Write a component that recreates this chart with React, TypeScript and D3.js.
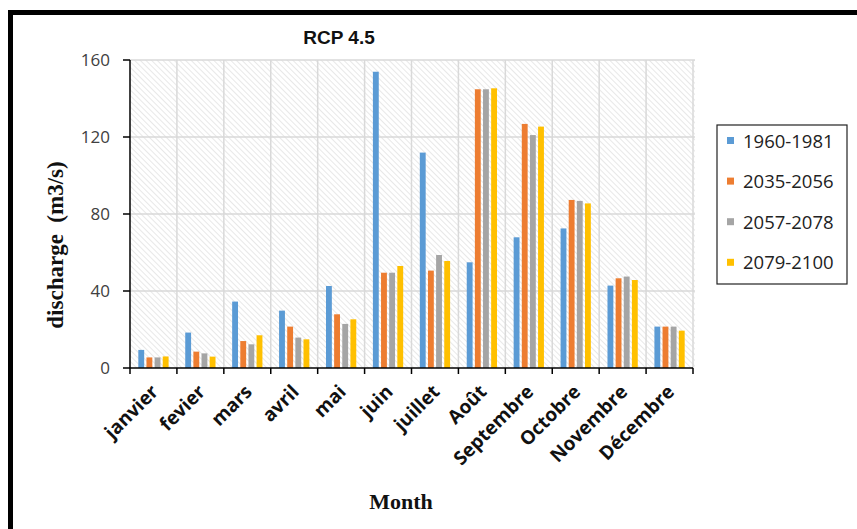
import React from "react";
import * as d3 from "d3";

const months = ["janvier", "fevier", "mars", "avril", "mai", "juin", "juillet", "Août", "Septembre", "Octobre", "Novembre", "Décembre"];
const seriesNames = ["1960-1981", "2035-2056", "2057-2078", "2079-2100"];
const s1960 = [9.4, 18.4, 34.5, 29.8, 42.6, 153.9, 111.9, 54.9, 67.9, 72.5, 42.8, 21.5];
const s2035 = [5.5, 8.5, 14, 21.5, 27.9, 49.5, 50.6, 144.8, 126.8, 87.3, 46.6, 21.5];
const s2057 = [5.5, 7.6, 12.3, 15.8, 22.9, 49.5, 58.7, 144.8, 121, 86.8, 47.5, 21.5];
const s2079 = [6, 5.9, 17, 14.9, 25.3, 53, 55.6, 145.3, 125.4, 85.5, 45.7, 19.4];
const yTicks = [0, 40, 80, 120, 160];
const colors = ["#5B9BD5", "#ED7D31", "#A5A5A5", "#FFC000"];

export default function App() {
  const W = 857, H = 529;
  const left = 130, right = 693, top = 60, bottom = 368;
  const series = [s1960, s2035, s2057, s2079];
  const x0 = d3.scaleBand<string>().domain(months).range([left, right]).paddingInner(0).paddingOuter(0);
  const bw = x0.bandwidth();
  const x1 = d3.scaleBand<string>().domain(seriesNames).range([bw * 0.16, bw * 0.84]).paddingInner(0.28).paddingOuter(0.1);
  const y = d3.scaleLinear().domain([0, 160]).range([bottom, top]);

  return (
    <svg width={W} height={H} style={{ position: "fixed", left: 0, top: 0, background: "#fff" }}>
      <defs>
        <pattern id="hatch" width="4" height="4" patternUnits="userSpaceOnUse" patternTransform="rotate(-45)">
          <line x1="0" y1="0" x2="0" y2="4" stroke="#d2d2d2" strokeWidth="1" />
        </pattern>
      </defs>
      <rect x={0} y={0} width={W} height={H} fill="#fff" />
      <rect x={10.5} y={12.5} width={900} height={600} fill="none" stroke="#000" strokeWidth={5} />
      <text x={339} y={44} textAnchor="middle" fontFamily="Liberation Sans, Arial" fontWeight="bold" fontSize={19} fill="#111">RCP 4.5</text>

      {/* plot area */}
      <rect x={left} y={top} width={right - left + 2} height={bottom - top} fill="url(#hatch)" />
      {yTicks.filter(t => t > 0).map(t => (
        <line key={"gy" + t} x1={left} x2={right + 2} y1={y(t)} y2={y(t)} stroke="#d9d9d9" strokeWidth={1.5} />
      ))}
      {months.map((m) => (
        <line key={"gx" + m} x1={(x0(m) as number) + bw} x2={(x0(m) as number) + bw} y1={top} y2={bottom} stroke="#d9d9d9" strokeWidth={1.5} />
      ))}

      {/* bars */}
      {series.map((vals, si) =>
        months.map((m, i) => (
          <rect key={si + "-" + m}
            x={(x0(m) as number) + (x1(seriesNames[si]) as number)}
            y={y(vals[i])}
            width={x1.bandwidth()}
            height={bottom - y(vals[i])}
            fill={colors[si]} />
        ))
      )}

      {/* axes */}
      <line x1={left} x2={left} y1={top} y2={bottom} stroke="#000" strokeWidth={1.5} />
      {yTicks.map(t => (
        <g key={"yt" + t}>
          <line x1={left - 7} x2={left} y1={y(t)} y2={y(t)} stroke="#000" strokeWidth={1.5} />
          <text x={left - 20} y={y(t) + 6} textAnchor="end" fontFamily="Open Sans" fontSize={17} fill="#404040">{t}</text>
        </g>
      ))}
      <line x1={left} x2={right} y1={bottom} y2={bottom} stroke="#000" strokeWidth={1.5} />
      {[...months.map(m => x0(m) as number), right].map((xv, i) => (
        <line key={"xt" + i} x1={xv} x2={xv} y1={bottom} y2={bottom + 6} stroke="#000" strokeWidth={1.5} />
      ))}
      {months.map(m => {
        const cx = (x0(m) as number) + bw / 2 + 6;
        const cy = bottom + 25;
        return (
          <text key={"xl" + m} x={cx} y={cy} transform={`rotate(-45 ${cx} ${cy})`} textAnchor="end"
            fontFamily="Open Sans" fontWeight="bold" fontSize={19} fill="#111">{m}</text>
        );
      })}

      <text x={401} y={509} textAnchor="middle" fontFamily="Liberation Serif, Times New Roman" fontWeight="bold" fontSize={22} fill="#111">Month</text>
      <text transform="translate(63 245) rotate(-90)" textAnchor="middle" fontFamily="Liberation Serif, Times New Roman" fontWeight="bold" fontSize={23} fill="#111" style={{ whiteSpace: "pre" }}>{"discharge  (m3/s)"}</text>

      {/* legend */}
      <rect x={717} y={125} width={130} height={159} fill="#fff" stroke="#222" strokeWidth={1.2} />
      {seriesNames.map((s, i) => (
        <g key={"lg" + s}>
          <rect x={727} y={137 + i * 40.6} width={7} height={7} fill={colors[i]} />
          <text x={743} y={147.5 + i * 40.6} fontFamily="Open Sans" fontSize={18.5} fill="#222">{s}</text>
        </g>
      ))}
    </svg>
  );
}
